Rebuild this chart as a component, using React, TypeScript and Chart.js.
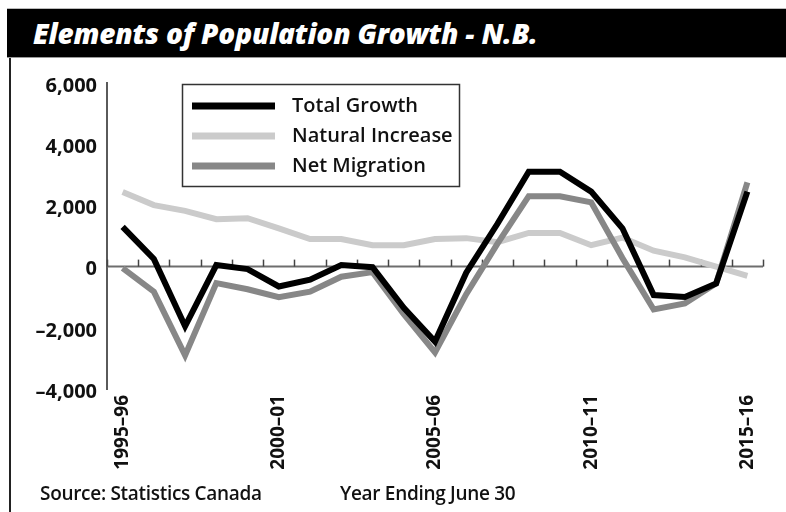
import React, { useEffect, useRef } from "react";
import { Chart, registerables } from "chart.js";

Chart.register(...registerables);

const years = [
  "1995–96", "1996–97", "1997–98", "1998–99", "1999–00", "2000–01", "2001–02",
  "2002–03", "2003–04", "2004–05", "2005–06", "2006–07", "2007–08", "2008–09",
  "2009–10", "2010–11", "2011–12", "2012–13", "2013–14", "2014–15", "2015–16",
];
const shownYears = ["1995–96", "2000–01", "2005–06", "2010–11", "2015–16"];

const totalGrowth = [1300, 250, -1950, 50, -80, -650, -430, 50, -20, -1350, -2450, -200, 1400, 3100, 3100, 2450, 1250, -930, -990, -550, 2450];
const naturalIncrease = [2440, 2010, 1820, 1550, 1580, 1250, 900, 900, 700, 700, 900, 930, 800, 1100, 1100, 700, 950, 520, 300, 0, -300];
const netMigration = [-50, -820, -2900, -540, -740, -1000, -820, -330, -180, -1550, -2800, -900, 750, 2300, 2300, 2100, 280, -1400, -1200, -550, 2750];

const yTickValues = [-4000, -2000, 0, 2000, 4000, 6000];
const yTickLabels = ["–4,000", "–2,000", "0", "2,000", "4,000", "6,000"];

const seriesNames = ["Total Growth", "Natural Increase", "Net Migration"];
const seriesColors = ["#000000", "#cbcbcb", "#878787"];

const FONT = "'Open Sans', sans-serif";

const zeroLinePlugin = {
  id: "zeroLine",
  beforeDatasetsDraw(chart: any) {
    const { ctx, chartArea, scales } = chart;
    const x = scales.x;
    const y = scales.y;
    const y0 = y.getPixelForValue(0);
    ctx.save();
    ctx.strokeStyle = "#6e6e6e";
    ctx.lineWidth = 2;
    ctx.beginPath();
    ctx.moveTo(chartArea.left, y0);
    ctx.lineTo(chartArea.right, y0);
    ctx.stroke();
    const half = (x.getPixelForValue(1) - x.getPixelForValue(0)) / 2;
    ctx.strokeStyle = "#444";
    ctx.lineWidth = 1.5;
    for (let i = 0; i <= years.length; i++) {
      const px = Math.round(x.getPixelForValue(i) - half) + 0.5;
      ctx.beginPath();
      ctx.moveTo(px, y0);
      ctx.lineTo(px, y0 - 7);
      ctx.stroke();
    }
    ctx.restore();
  },
};

const boxLegendPlugin = {
  id: "boxLegend",
  afterDraw(chart: any) {
    const { ctx, chartArea } = chart;
    const left = chartArea.left + 75;
    const top = chartArea.top + 1;
    ctx.save();
    ctx.fillStyle = "#ffffff";
    ctx.fillRect(left, top, 277, 102);
    ctx.strokeStyle = "#333";
    ctx.lineWidth = 1.5;
    ctx.strokeRect(left + 0.5, top + 0.5, 277, 102);
    const rows = [22, 52, 82];
    chart.data.datasets.forEach((ds: any, i: number) => {
      const cy = top + rows[i];
      ctx.strokeStyle = ds.borderColor;
      ctx.lineWidth = 7;
      ctx.lineCap = "butt";
      ctx.beginPath();
      ctx.moveTo(left + 10, cy);
      ctx.lineTo(left + 93, cy);
      ctx.stroke();
      ctx.fillStyle = "#111";
      ctx.font = `600 20px ${FONT}`;
      ctx.textBaseline = "middle";
      ctx.textAlign = "left";
      ctx.fillText(ds.label, left + 110, cy);
    });
    ctx.restore();
  },
};

export default function App() {
  const canvasRef = useRef<HTMLCanvasElement | null>(null);

  useEffect(() => {
    const canvas = canvasRef.current;
    if (!canvas) return;
    const chart = new Chart(canvas, {
      type: "line",
      data: {
        labels: years,
        datasets: [
          { label: seriesNames[0], data: totalGrowth, borderColor: seriesColors[0], order: 0 },
          { label: seriesNames[1], data: naturalIncrease, borderColor: seriesColors[1], order: 2 },
          { label: seriesNames[2], data: netMigration, borderColor: seriesColors[2], order: 1 },
        ].map((d) => ({
          ...d,
          borderWidth: 6,
          pointRadius: 0,
          tension: 0,
          fill: false,
          borderJoinStyle: "miter" as const,
          borderCapStyle: "butt" as const,
        })),
      },
      options: {
        animation: false,
        responsive: false,
        maintainAspectRatio: false,
        layout: { padding: { left: 0, right: 23, top: 25, bottom: 0 } },
        plugins: { legend: { display: false }, tooltip: { enabled: false } },
        scales: {
          x: {
            type: "category",
            offset: true,
            grid: { display: false, drawTicks: false, offset: true },
            border: { display: false },
            afterFit: (s: any) => { s.height = 123; },
            ticks: {
              autoSkip: false,
              maxRotation: 90,
              minRotation: 90,
              padding: 6,
              color: "#111",
              font: { family: FONT, size: 19, weight: "bold" },
              callback: (_v: any, idx: number) => (shownYears.includes(years[idx]) ? years[idx] : ""),
            },
          },
          y: {
            min: -4000,
            max: 6000,
            afterFit: (s: any) => { s.width = 95; },
            afterBuildTicks: (s: any) => { s.ticks = yTickValues.map((v) => ({ value: v })); },
            grid: { display: false, drawTicks: false },
            border: { display: true, color: "#5a5a5a", width: 2 },
            ticks: {
              padding: 10,
              labelOffset: 3,
              color: "#111",
              font: { family: FONT, size: 20, weight: "bold" },
              callback: (v: any) => {
                const i = yTickValues.indexOf(Number(v));
                return i >= 0 ? yTickLabels[i] : "";
              },
            },
          },
        },
      },
      plugins: [zeroLinePlugin, boxLegendPlugin],
    });
    return () => chart.destroy();
  }, []);

  return (
    <div style={{ position: "fixed", left: 0, top: 0, width: 786, height: 512, overflow: "hidden", background: "#fff", fontFamily: FONT }}>
      <div style={{ position: "absolute", left: 7, top: 8, width: 779, height: 50, background: "#000", borderTop: "1px solid #bbb", borderBottom: "1px solid #999", boxSizing: "border-box" }} />
      <div style={{ position: "absolute", left: 33, top: 9, height: 48, lineHeight: "48px", color: "#fff", fontSize: 28, fontWeight: 800, fontStyle: "italic", whiteSpace: "nowrap", letterSpacing: -0.2 }}>
        Elements of Population Growth - N.B.
      </div>
      <div style={{ position: "absolute", left: 9, top: 58, width: 2, height: 454, background: "#222" }} />
      <canvas ref={canvasRef} width={774} height={454} style={{ position: "absolute", left: 12, top: 58, display: "block" }} />
      <div style={{ position: "absolute", left: 40, top: 480, fontSize: 19, fontWeight: 600, color: "#111", whiteSpace: "nowrap", lineHeight: "26px", letterSpacing: -0.3 }}>
        Source: Statistics Canada
      </div>
      <div style={{ position: "absolute", left: 340, top: 480, fontSize: 19, fontWeight: 600, color: "#111", whiteSpace: "nowrap", lineHeight: "26px", letterSpacing: -0.3 }}>
        Year Ending June 30
      </div>
    </div>
  );
}
